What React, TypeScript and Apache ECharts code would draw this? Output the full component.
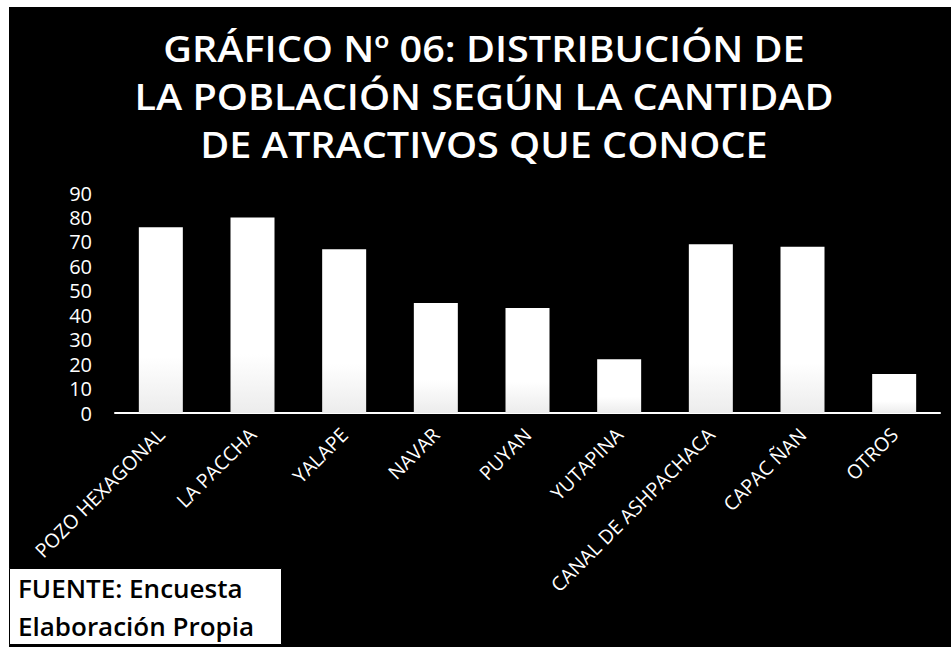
import React, { useEffect, useRef } from "react";
import * as echarts from "echarts";

const titleLines = [
  "GRÁFICO Nº 06: DISTRIBUCIÓN DE",
  "LA POBLACIÓN SEGÚN LA CANTIDAD",
  "DE ATRACTIVOS QUE CONOCE",
];
const categories = [
  "POZO HEXAGONAL",
  "LA PACCHA",
  "YALAPE",
  "NAVAR",
  "PUYAN",
  "YUTAPINA",
  "CANAL DE ASHPACHACA",
  "CAPAC ÑAN",
  "OTROS",
];
const values = [76, 80, 67, 45, 43, 22, 69, 68, 16];
const yTicks = { min: 0, max: 90, interval: 10 };
const sourceLines = ["FUENTE: Encuesta", "Elaboración Propia"];

const FONT = "'Open Sans', 'Noto Sans', sans-serif";

export default function App() {
  const ref = useRef<HTMLDivElement>(null);
  useEffect(() => {
    document.body.style.margin = "0";
    const chart = echarts.init(ref.current!, null, { renderer: "svg" });
    const titleGraphics = titleLines.map((line, i) => ({
      type: "text",
      x: 484,
      y: 48 + i * 48,
      scaleX: 1.1,
      z: 50,
      style: {
        text: line,
        fill: "#ffffff",
        font: `600 36px ${FONT}`,
        textAlign: "center",
        textVerticalAlign: "middle",
      },
    }));
    chart.setOption({
      animation: false,
      backgroundColor: "#000000",
      grid: { left: 115, right: 11, top: 193, bottom: 234, containLabel: false },
      xAxis: {
        type: "category",
        data: categories,
        axisLine: { show: true, lineStyle: { color: "#ffffff", width: 2 } },
        axisTick: { show: false },
        axisLabel: {
          color: "#ffffff",
          fontFamily: FONT,
          fontSize: 19.5,
          rotate: 45,
          margin: 18,
          interval: 0,
        },
      },
      yAxis: {
        type: "value",
        min: yTicks.min,
        max: yTicks.max,
        interval: yTicks.interval,
        splitLine: { show: false },
        axisLine: { show: false },
        axisTick: { show: false },
        axisLabel: {
          color: "#ffffff",
          fontFamily: FONT,
          fontSize: 20,
          margin: 23,
        },
      },
      series: [
        {
          type: "bar",
          data: values,
          barWidth: "48%",
          itemStyle: {
            color: {
              type: "linear",
              x: 0,
              y: 0,
              x2: 0,
              y2: 1,
              colorStops: [
                { offset: 0, color: "#ffffff" },
                { offset: 0.7, color: "#ffffff" },
                { offset: 1, color: "#ececec" },
              ],
            },
          },
        },
      ],
      graphic: [
        { type: "rect", left: 0, top: 0, shape: { width: 951, height: 7 }, style: { fill: "#ffffff" }, z: 100 },
        { type: "rect", left: 0, top: 0, shape: { width: 9, height: 647 }, style: { fill: "#ffffff" }, z: 100 },
        ...titleGraphics,
        {
          type: "rect",
          left: 9,
          top: 568,
          shape: { width: 272, height: 76 },
          style: { fill: "#ffffff", stroke: "#000000", lineWidth: 1 },
          z: 100,
        },
        {
          type: "text",
          left: 18,
          top: 569,
          z: 101,
          style: {
            text: sourceLines.join("\n"),
            fill: "#000000",
            font: `600 26px ${FONT}`,
            lineHeight: 38,
          },
        },
      ],
    });
    return () => chart.dispose();
  }, []);
  return (
    <div
      ref={ref}
      style={{ position: "absolute", left: 0, top: 0, width: 951, height: 647 }}
    />
  );
}
